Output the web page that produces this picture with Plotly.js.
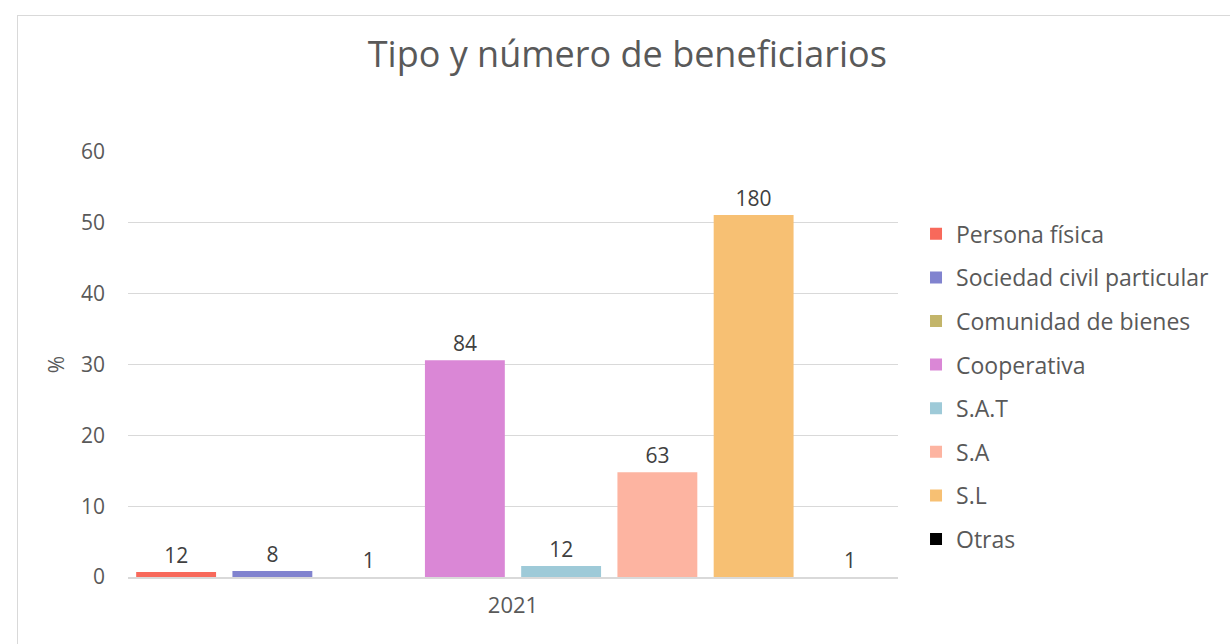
<!DOCTYPE html>
<html>
<head>
<meta charset="utf-8">
<script src="https://cdn.plot.ly/plotly-3.0.1.min.js"></script>
<style>
html,body{margin:0;padding:0;background:#fff;}
#frame{position:absolute;left:17px;top:15px;width:1230px;height:660px;border:1px solid #d9d9d9;box-sizing:border-box;pointer-events:none;}
#chart{width:1230px;height:644px;}
</style>
</head>
<body>
<div id="chart"></div>
<div id="frame"></div>
<script>
const categories = ["2021"];
const seriesNames = ["Persona física","Sociedad civil particular","Comunidad de bienes","Cooperativa","S.A.T","S.A","S.L","Otras"];
const seriesValues = [0.7, 0.85, 0, 30.6, 1.55, 14.8, 51.1, 0];
const seriesLabels = ["12","8","1","84","12","63","180","1"];
const seriesColors = ["#f8695b","#8183cf","#c3b56a","#da87d6","#9ecad8","#fdb4a1","#f7c073","#000000"];
const yTicks = [0,10,20,30,40,50,60];

const font = "'Open Sans', 'DejaVu Sans', sans-serif";
const traces = seriesNames.map((n,i)=>({
  type:'bar', name:n, x:categories, y:[seriesValues[i]],
  text:[seriesLabels[i]], textposition:'outside', cliponaxis:false,
  textfont:{family:font,size:21,color:'#404040'},
  marker:{color:seriesColors[i]}, legendgroup:'g'+i, hoverinfo:'none'
}));

const layout = {
  width:1230, height:644,
  margin:{l:128,r:332,t:152,b:67},
  paper_bgcolor:'#fff', plot_bgcolor:'#fff',
  title:{text:'Tipo y número de beneficiarios', x:0.51, xanchor:'center', y:0.915, yanchor:'middle',
    font:{family:font,size:36,color:'#595959'}},
  barmode:'group', bargap:0, bargroupgap:0.17,
  xaxis:{type:'category', showgrid:false, showline:true, linecolor:'#d9d9d9', linewidth:2,
    tickfont:{family:font,size:22,color:'#595959'}, ticks:'', ticklen:0, ticklabelstandoff:8},
  yaxis:{range:[0,60], tickvals:yTicks, showgrid:true, gridcolor:'#d9d9d9', gridwidth:1,
    zeroline:false, showline:false, ticks:'', ticklabelstandoff:22,
    tickfont:{family:font,size:21,color:'#595959'},
    title:{text:'%', font:{family:font,size:21,color:'#595959'}, standoff:10}},
  showlegend:true,
  legend:{x:1.0234, xanchor:'left', y:0.858, yanchor:'top', tracegroupgap:10.7, itemwidth:30,
    font:{family:font,size:23,color:'#595959'}, bgcolor:'rgba(0,0,0,0)'}
};
Plotly.newPlot('chart', traces, layout, {displayModeBar:false, staticPlot:true});
</script>
</body>
</html>
